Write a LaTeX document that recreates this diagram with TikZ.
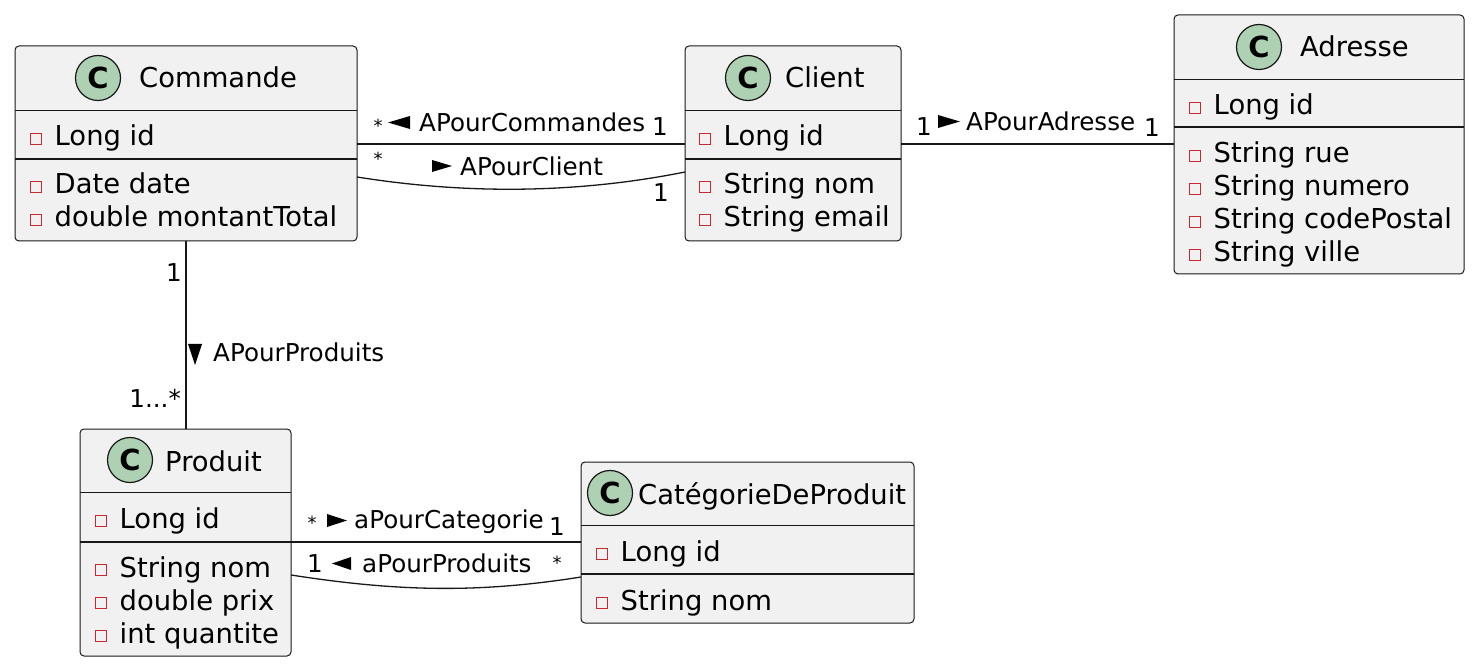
\documentclass[tikz,border=0pt]{standalone}
\usepackage{fontspec}
\setmainfont{DejaVu Sans}
\usetikzlibrary{positioning}
\definecolor{boxfill}{HTML}{F1F1F1}
\definecolor{boxline}{HTML}{181818}
\definecolor{spotfill}{HTML}{ADD1B2}
\definecolor{privred}{HTML}{C82930}

\tikzset{
  classbox/.style={draw=boxline,fill=boxfill,line width=1pt,rounded corners=4pt,
                   inner sep=0pt,outer sep=0pt,anchor=north west},
  spot/.style={circle,draw=boxline,fill=spotfill,line width=1.2pt,minimum size=45pt,
               inner sep=0pt,font=\fontsize{29}{29}\selectfont\bfseries},
  title/.style={anchor=base west,inner sep=0pt,font=\fontsize{27.4}{30}\selectfont},
  member/.style={anchor=base west,inner sep=0pt,font=\fontsize{27.4}{30}\selectfont},
  lbl/.style={anchor=base west,inner sep=0pt,font=\fontsize{24.6}{28}\selectfont},
  mult/.style={anchor=base,inner sep=0pt,font=\fontsize{24.6}{28}\selectfont},
  star/.style={inner sep=0pt,font=\fontsize{18}{20}\selectfont},
  assoc/.style={draw=boxline,line width=1.3pt},
  pointer/.style={fill=black},
}

% attribute: name, icon x, baseline y, text
\newcommand\member[4]{%
  \draw[privred,line width=1.4pt] (#2-5.5,#3-12.5) rectangle (#2+5.5,#3-1.5);
  \node[member] (#1) at (#2+18.5,#3) {#4};}

\begin{document}
\begin{tikzpicture}[x=1pt,y=-1pt]
  \useasboundingbox (0,0) rectangle (1476,668);

  % classes
  \node[classbox,minimum width=342pt,minimum height=195pt] (cmd) at (15,46) {};
  \node[classbox,minimum width=216pt,minimum height=195pt] (cli) at (685,46) {};
  \node[classbox,minimum width=290pt,minimum height=259pt] (adr) at (1174,15) {};
  \node[classbox,minimum width=211pt,minimum height=227pt] (prod) at (80,429) {};
  \node[classbox,minimum width=333pt,minimum height=161pt] (cat) at (581,462) {};

  % Commande
  \node[spot] (cmdspot) at (98,78) {C};
  \node[title] (cmdtitle) at (139,88) {Commande};
  \draw[boxline] (cmd.west |- 0,110) -- (cmd.east |- 0,110);
  \draw[boxline,line width=1.3pt] (cmd.west |- 0,159) -- (cmd.east |- 0,159);
  \member{cmdid}{36}{146}{Long id}
  \member{cmddate}{36}{194}{Date date}
  \member{cmdtotal}{36}{227}{double montantTotal}

  % Client
  \node[spot] (clispot) at (748,78) {C};
  \node[title] (clititle) at (785,88) {Client};
  \draw[boxline] (cli.west |- 0,110) -- (cli.east |- 0,110);
  \draw[boxline,line width=1.3pt] (cli.west |- 0,159) -- (cli.east |- 0,159);
  \member{cliid}{705}{146}{Long id}
  \member{clinom}{705}{194}{String nom}
  \member{cliemail}{705}{227}{String email}

  % Adresse
  \node[spot] (adrspot) at (1259,47) {C};
  \node[title] (adrtitle) at (1300,57) {Adresse};
  \draw[boxline] (adr.west |- 0,79) -- (adr.east |- 0,79);
  \draw[boxline,line width=1.3pt] (adr.west |- 0,127) -- (adr.east |- 0,127);
  \member{adrid}{1195}{115}{Long id}
  \member{adrrue}{1195}{163}{String rue}
  \member{adrnum}{1195}{196}{String numero}
  \member{adrcp}{1195}{229}{String codePostal}
  \member{adrville}{1195}{262}{String ville}

  % Produit
  \node[spot] (prodspot) at (130,460) {C};
  \node[title] (prodtitle) at (165,471) {Produit};
  \draw[boxline] (prod.west |- 0,492) -- (prod.east |- 0,492);
  \draw[boxline,line width=1.3pt] (prod.west |- 0,542) -- (prod.east |- 0,542);
  \member{prodid}{101}{528}{Long id}
  \member{prodnom}{101}{577}{String nom}
  \member{prodprix}{101}{610}{double prix}
  \member{prodqte}{101}{643}{int quantite}

  % CatégorieDeProduit
  \node[spot] (catspot) at (610,493) {C};
  \node[title] (cattitle) at (638,504) {CatégorieDeProduit};
  \draw[boxline] (cat.west |- 0,525) -- (cat.east |- 0,525);
  \draw[boxline,line width=1.3pt] (cat.west |- 0,574) -- (cat.east |- 0,574);
  \member{catid}{602}{561}{Long id}
  \member{catnom}{602}{610}{String nom}

  % associations
  \draw[assoc] (cmd.east |- 0,144) -- (cli.west |- 0,144);
  \draw[assoc] (cmd.east |- 0,177) .. controls (470,195) and (580,193) .. (cli.west |- 0,172);
  \draw[assoc] (cli.east |- 0,144) -- (adr.west |- 0,144);
  \draw[assoc] (cmd.south) -- (cmd.south |- prod.north);
  \draw[assoc] (prod.east |- 0,542) -- (cat.west |- 0,542);
  \draw[assoc] (prod.east |- 0,575) .. controls (400,592) and (480,593) .. (cat.west |- 0,577);

  % labels
  \node[star] (s1) at (378,126) {*};
  \fill[pointer] (388,122.5) -- (410,116) -- (410,129) -- cycle;
  \node[lbl] (l1) at (419,132) {APourCommandes};
  \node[mult] (m1) at (660,136) {1};

  \node[star] (s2) at (378,159) {*};
  \fill[pointer] (432,160) -- (452,166) -- (432,172) -- cycle;
  \node[lbl] (l2) at (460,176) {APourClient};
  \node[mult] (m2) at (661,202) {1};

  \node[mult] (m3) at (924,136) {1};
  \fill[pointer] (938,115) -- (960,121.5) -- (938,128) -- cycle;
  \node[lbl] (l3) at (966,131) {APourAdresse};
  \node[mult] (m4) at (1152,137) {1};

  \node[mult,anchor=base east] (m5) at (182,282) {1};
  \fill[pointer] (188,344) -- (202,344) -- (195,365) -- cycle;
  \node[lbl] (l4) at (213,362) {APourProduits};
  \node[mult,anchor=base east] (m6) at (181,407) {1...*};

  \node[star] (s3) at (312,523) {*};
  \fill[pointer] (327,514) -- (347,520.5) -- (327,527) -- cycle;
  \node[lbl] (l5) at (354,528) {aPourCategorie};
  \node[mult] (m7) at (557,535) {1};

  \node[mult] (m8) at (315,572) {1};
  \fill[pointer] (332,563.5) -- (351,557) -- (351,570) -- cycle;
  \node[lbl] (l6) at (362,572) {aPourProduits};
  \node[star] (s4) at (557,563) {*};
\end{tikzpicture}
\end{document}
